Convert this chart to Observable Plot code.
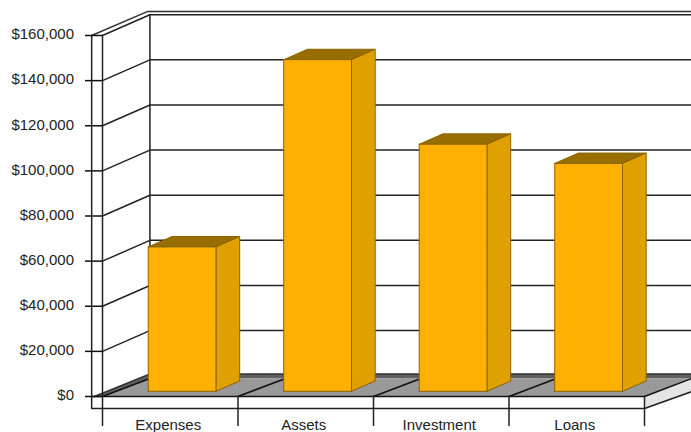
<!DOCTYPE html>
<html>
<head>
<meta charset="utf-8">
<script src="https://cdn.jsdelivr.net/npm/d3@7"></script>
<script src="https://cdn.jsdelivr.net/npm/@observablehq/plot@0.6"></script>
<style>
  html, body { margin: 0; padding: 0; background: #fff; }
  svg { display: block; }
</style>
</head>
<body>
<div id="chart"></div>
<script>
// Balances per category
const categories = ["Expenses", "Assets", "Investment", "Loans"];
const amounts = [64000, 147000, 109500, 101000];
const dollarTicks = [0, 20000, 40000, 60000, 80000, 100000, 120000, 140000, 160000];

// Oblique projection: z runs from 0 (front edge) to 1 (back wall)
const depthX = 0.35;      // category units at z = 1
const depthY = 9200;      // dollars at z = 1
const project = (x, y, z = 0) => ({x: x + z * depthX, y: y + z * depthY});

// Closed polygon from projected corners
const face = (corners, fill, stroke = "none", strokeWidth = 1) =>
  Plot.line([...corners, corners[0]], {x: "x", y: "y", fill, stroke, strokeWidth, strokeLinejoin: "miter"});

// Open polyline from projected points
const path = (points, stroke = "#222", strokeWidth = 1.5) =>
  Plot.line(points, {x: "x", y: "y", stroke, strokeWidth, strokeLinejoin: "miter"});

const n = categories.length;
const plinthX = -0.08;     // left edge of the axis plate
const plinthY = -5300;     // lower edge of the axis plate
const floorRise = 8000;    // height of the floor's rear edge
const bandTop = 10000;     // top of the dark band along the wall's base
const sideTop = 2200;      // lower rear corner of the floor's right-hand edge
const rimTop = 170600;     // upper line of the wall's top edge
const backRight = n + depthX;
const wallTop = project(0, 160000, 1).y;

// Back and side walls
const gridMarks = dollarTicks.filter(v => v > 0).map(v =>
  path([project(0, v, 0), project(0, v, 1), project(n, v, 1)])
);

// Floor, rear band and the thin right-hand edge
const floorMarks = [
  face([{x: plinthX + 0.02, y: 0}, {x: depthX, y: bandTop}, {x: backRight, y: bandTop}, {x: backRight, y: floorRise}, {x: depthX, y: floorRise}, {x: 0, y: 0}], "#5f5f5f"),
  face([{x: 0, y: 0}, {x: depthX, y: floorRise}, {x: backRight, y: floorRise}, {x: n, y: 0}], "#999999"),
  face([{x: n, y: 0}, {x: backRight, y: floorRise}, {x: backRight, y: sideTop}, {x: n, y: plinthY}], "#e4e4e4"),
  ...d3.range(0, n + 1).map(i => path([{x: i, y: 0}, {x: i + depthX, y: floorRise}], "#111")),
  path([{x: plinthX + 0.02, y: 0}, {x: depthX, y: bandTop}, {x: backRight, y: bandTop}], "#333"),
  path([{x: n, y: plinthY}, {x: backRight, y: sideTop}], "#222")
];

// Each bar: top, side and front faces between z = 0.25 and z = 0.75
const frontEdge = "#8a6400";
const barMarks = categories.flatMap((c, i) => {
  const left = i + 0.25, right = i + 0.75, v = amounts[i];
  return [
    face([project(left, v, 0.25), project(right, v, 0.25), project(right, v, 0.75), project(left, v, 0.75)], "#996e00", frontEdge),
    face([project(right, 0, 0.25), project(right, v, 0.25), project(right, v, 0.75), project(right, 0, 0.75)], "#e0a000", frontEdge),
    face([project(left, 0, 0.25), project(left, v, 0.25), project(right, v, 0.25), project(right, 0, 0.25)], "#ffb000", frontEdge)
  ];
});

const chart = Plot.plot({
  width: 691,
  height: 432,
  marginLeft: 102,
  marginRight: 47,
  marginTop: 35,
  marginBottom: 36,
  style: {background: "#fff", fontFamily: "'Liberation Sans', Arial, sans-serif", fontSize: "15px", color: "#222"},
  x: {type: "linear", domain: [0, n], axis: null},
  y: {type: "linear", domain: [0, 160000], axis: null},
  marks: [
    ...gridMarks,
    // Top rim of the walls
    path([{x: plinthX, y: 160000}, {x: depthX - 0.02, y: rimTop}, {x: backRight, y: rimTop}], "#333"),
    path([{x: depthX, y: wallTop}, {x: depthX, y: bandTop}], "#222"),
    ...floorMarks,
    // Axis plate in front of the floor
    path([{x: plinthX, y: 160000}, {x: plinthX, y: plinthY}, {x: n, y: plinthY}], "#222"),
    path([{x: 0, y: 160000}, {x: 0, y: 0}], "#222"),
    path([{x: plinthX, y: 0}, {x: n, y: 0}], "#111"),
    ...d3.range(0, n + 1).map(i => path([{x: i, y: 0}, {x: i, y: -12800}], "#222")),
    ...barMarks,
    Plot.axisY(dollarTicks, {
      anchor: "left",
      tickSize: 17,
      stroke: "#111",
      strokeWidth: 1.5,
      text: null,
      label: null
    }),
    Plot.axisY(dollarTicks, {
      anchor: "left",
      tickSize: 0,
      textAnchor: "end",
      dx: -19.5,
      dy: -1,
      tickFormat: d3.format("$,"),
      label: null
    }),
    Plot.axisX(categories.map((c, i) => i + 0.5), {
      anchor: "bottom",
      tickSize: 0,
      tickPadding: 23,
      dx: -2,
      tickFormat: d => categories[d - 0.5],
      label: null
    })
  ]
});

document.getElementById("chart").append(chart);
</script>
</body>
</html>
